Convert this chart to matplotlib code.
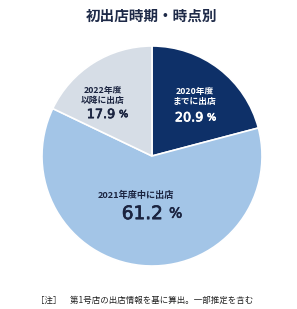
import matplotlib
matplotlib.use("Agg")
import matplotlib.pyplot as plt
import matplotlib.patheffects as pe

plt.rcParams['font.family'] = ['Noto Sans CJK JP', 'DejaVu Sans']

# ─ DATA ─
labels = ["2020年度\nまでに出店", "2021年度中に出店", "2022年度\n以降に出店"]
values = [20.9, 61.2, 17.9]
colors = ["#0e3068", "#a3c5e7", "#d6dde6"]
text_colors = ["white", "#1b2440", "#1b2440"]
title = "初出店時期・時点別"
note = "［注］　第1号店の出店情報を基に算出。一部推定を含む"

# ─ FIGURE ─
W, H = 297, 309
fig = plt.figure(figsize=(W / 100, H / 100), dpi=100)
cx, cy, r = 152, 156, 110
ax = fig.add_axes([(cx - r) / W, (H - cy - r) / H, 2 * r / W, 2 * r / H])

ax.pie(values, colors=colors, startangle=90, counterclock=False, radius=1,
       wedgeprops=dict(edgecolor="white", linewidth=1.2))
ax.set_xlim(-1, 1)
ax.set_ylim(-1, 1)
ax.set_aspect("equal")
ax.axis("off")

# layout: label centre, number right edge / "%" left edge, number y, sizes
lab_xy = [(0.39, 0.54), (-0.15, -0.355), (-0.45, 0.55)]
num_x = [(0.465, 0.50), (0.10, 0.155), (-0.335, -0.30)]
num_y = [0.36, -0.51, 0.39]
lab_fs = [6.3, 6.6, 6.3]
num_fs = [9.2, 13.3, 9.2]
pct_fs = [7, 10, 7]

for i, (lab, v, tc) in enumerate(zip(labels, values, text_colors)):
    thick = [pe.withStroke(linewidth=0.5, foreground=tc)]
    ax.text(*lab_xy[i], lab, ha="center", va="center", fontsize=lab_fs[i], color=tc,
            fontweight="bold", linespacing=1.2)
    ax.text(num_x[i][0], num_y[i], f"{v:.1f}", ha="right", va="center_baseline",
            fontsize=num_fs[i], color=tc, family="DejaVu Sans", path_effects=thick)
    ax.text(num_x[i][1], num_y[i], "%", ha="left", va="center_baseline",
            fontsize=pct_fs[i], color=tc, family="DejaVu Sans", path_effects=thick)

fig.text(152 / W, 1 - 16 / H, title, ha="center", va="center", fontsize=10.5,
         fontweight="bold", color="#1e2a48")
fig.text(36 / W, 1 - 300 / H, note, ha="left", va="center", fontsize=6.1, color="#222222")

fig.savefig("out.png", dpi=100)
